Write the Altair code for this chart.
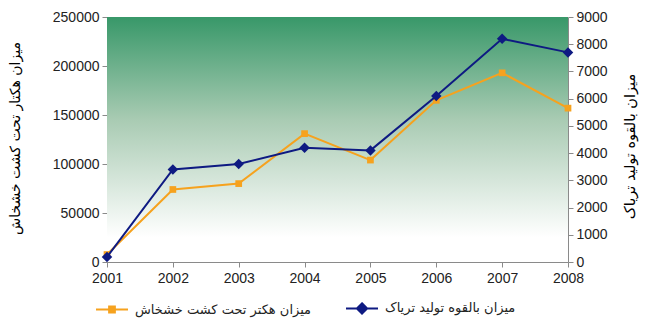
import altair as alt
import pandas as pd

years = [2001, 2002, 2003, 2004, 2005, 2006, 2007, 2008]
hectares = [7606, 74000, 80000, 131000, 104000, 165000, 193000, 157000]
opium = [185, 3400, 3600, 4200, 4100, 6100, 8200, 7700]
series_names = ["میزان هکتر تحت کشت خشخاش", "میزان بالقوه تولید تریاک"]
series_colors = ["#f6a21e", "#0e1a82"]
left_ticks = [0, 50000, 100000, 150000, 200000, 250000]
right_ticks = [0, 1000, 2000, 3000, 4000, 5000, 6000, 7000, 8000, 9000]
left_title = "میزان هکتار تحت کشت خشخاش"
right_title = "میزان بالقوه تولید تریاک"

W, H = 461, 245
df = pd.DataFrame({"year": years, "hectares": hectares, "opium": opium})

NUM_FONT = "Liberation Sans"
FA_FONT = "DejaVu Sans"
AX_COL = "#8a8a8a"

x = alt.X("year:Q", scale=alt.Scale(domain=[2001, 2008], nice=False, zero=False),
          axis=alt.Axis(values=years, format="d", title=None, grid=False,
                        domainColor=AX_COL, tickColor=AX_COL, tickSize=5,
                        labelFont=NUM_FONT, labelFontSize=14, labelColor="#222",
                        labelPadding=4, labelFlush=False))

left_axis = alt.Axis(values=left_ticks, format="d", orient="left", grid=False,
                     domainColor=AX_COL, tickColor=AX_COL, tickSize=5,
                     labelFont=NUM_FONT, labelFontSize=14, labelColor="#222", labelPadding=3,
                     title=left_title, titleFont=FA_FONT, titleFontSize=14, titleFontWeight="normal",
                     titleColor="#000", titleAngle=270, titleX=-92, titleY=121,
                     titleAlign="center", titleBaseline="middle")
right_axis = alt.Axis(values=right_ticks, format="d", orient="right", grid=False,
                      domainColor=AX_COL, tickColor=AX_COL, tickSize=5,
                      labelFont=NUM_FONT, labelFontSize=14, labelColor="#222", labelPadding=3,
                      title=right_title, titleFont=FA_FONT, titleFontSize=14.5, titleFontWeight="normal",
                      titleColor="#000", titleAngle=270, titleX=62, titleY=129,
                      titleAlign="center", titleBaseline="middle")

y_left = alt.Y("hectares:Q", scale=alt.Scale(domain=[0, 250000], nice=False), axis=left_axis)
y_right = alt.Y("opium:Q", scale=alt.Scale(domain=[0, 9000], nice=False), axis=right_axis)

bg = alt.Chart(pd.DataFrame({"a": [0]})).mark_rect(
    fill=alt.Gradient(gradient="linear", x1=0, x2=0, y1=0, y2=1,
                      stops=[alt.GradientStop(color="#389869", offset=0),
                             alt.GradientStop(color="#a9cbb3", offset=0.42),
                             alt.GradientStop(color="#ffffff", offset=0.9)])
).encode(x=alt.value(0), x2=alt.value(W), y=alt.value(0), y2=alt.value(H))

base = alt.Chart(df)
line_o = base.mark_line(color=series_colors[0], strokeWidth=2).encode(x=x, y=y_left)
pts_o = base.mark_point(shape="square", filled=True, color=series_colors[0], size=45, opacity=1).encode(x=x, y=y_left)
orange = alt.layer(line_o, pts_o)

line_b = base.mark_line(color=series_colors[1], strokeWidth=2).encode(x=x, y=y_right)
pts_b = base.mark_point(shape="diamond", filled=True, color=series_colors[1], size=110, opacity=1).encode(x=x, y=y_right)
blue = alt.layer(line_b, pts_b)

sym_o = "M-1,0L1,0M-0.18,-0.18L0.18,-0.18L0.18,0.18L-0.18,0.18Z"
sym_b = "M-1,0L1,0M0,-0.32L0.32,0L0,0.32L-0.32,0Z"
leg = alt.Legend(orient="none", legendX=-12, legendY=274, direction="horizontal", title=None,
                 symbolSize=1024, symbolStrokeWidth=2, labelFont=FA_FONT, labelFontSize=13,
                 labelColor="#222", labelLimit=400, columnPadding=30, labelOffset=6)
legend_layer = base.transform_filter("false").transform_calculate(s="'x'").mark_point(
    filled=True, opacity=1).encode(
    fill=alt.Fill("s:N", scale=alt.Scale(domain=series_names, range=series_colors), legend=leg),
    stroke=alt.Stroke("s:N", scale=alt.Scale(domain=series_names, range=series_colors), legend=leg),
    shape=alt.Shape("s:N", scale=alt.Scale(domain=series_names, range=[sym_o, sym_b]), legend=leg),
)

chart = alt.layer(bg, orange, blue, legend_layer).resolve_scale(y="independent").properties(
    width=W, height=H,
    autosize=alt.AutoSizeParams(type="none"),
    padding={"left": 99, "top": 9, "right": 80, "bottom": 56},
).configure_view(stroke=None)

chart.save("out.html", embed_options={"renderer": "svg", "actions": False})
